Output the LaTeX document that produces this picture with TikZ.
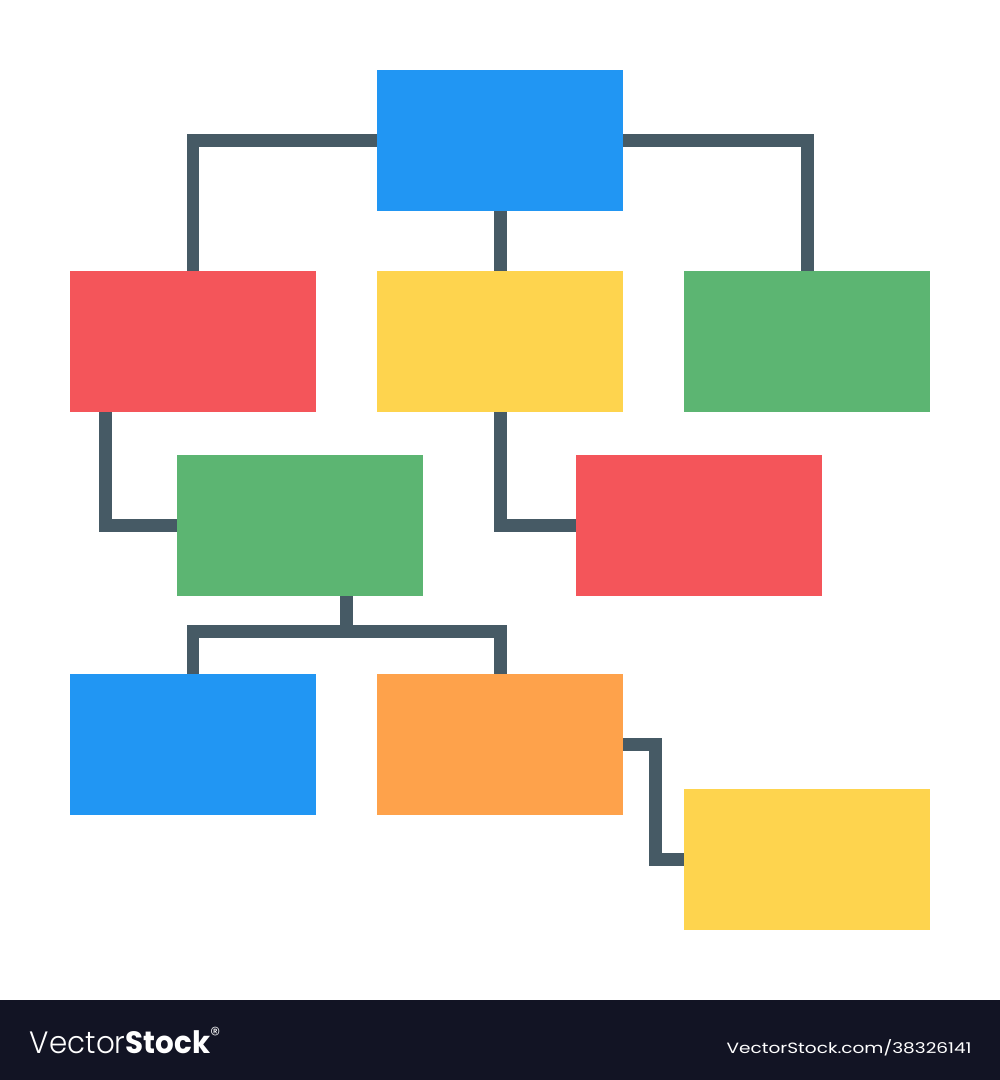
\documentclass[tikz,border=0pt]{standalone}
\usepackage{fontspec}
\usetikzlibrary{calc}
\newfontfamily\wmfont{Poppins}
\newfontfamily\wmlight{Poppins}[UprightFont={* Light}]
\definecolor{chartblue}{HTML}{2196F3}
\definecolor{chartred}{HTML}{F4555A}
\definecolor{chartyellow}{HTML}{FED44E}
\definecolor{chartgreen}{HTML}{5CB572}
\definecolor{chartorange}{HTML}{FEA24B}
\definecolor{slate}{HTML}{465A65}
\definecolor{barnavy}{HTML}{121424}
\begin{document}
\begin{tikzpicture}[
			x=0.02cm, y=-0.02cm,
			box/.style={rectangle, draw=none, inner sep=0pt, minimum width=4.92cm, minimum height=2.82cm},
			link/.style={draw=slate, line width=0.26cm, line join=miter},
			wmtext/.style={inner sep=0pt, outer sep=0pt, text=white, anchor=base west}
		]
		\useasboundingbox (0,0) rectangle (1000,1080);
		\fill[white] (0,0) rectangle (1000,1000);

		% Level 1
		\node[box, fill=chartblue] (root) at (500,140.5) {};

		% Level 2
		\node[box, fill=chartred] (left) at (193,341.5) {};
		\node[box, fill=chartyellow] (mid) at (500,341.5) {};
		\node[box, fill=chartgreen] (right) at (807,341.5) {};

		% Level 3
		\node[box, fill=chartgreen] (leftsub) at (300,525.5) {};
		\node[box, fill=chartred] (midsub) at (699,525.5) {};

		% Level 4
		\node[box, fill=chartblue] (leaf1) at (193,744.5) {};
		\node[box, fill=chartorange] (leaf2) at (500,744.5) {};
		\node[box, fill=chartyellow] (leaf3) at (807,859.5) {};
		\coordinate (fork) at (346.5,631);

		\draw[link] (root.west) -| (left.north);
		\draw[link] (root.east) -| (right.north);
		\draw[link] (root.south) -- (mid.north);

		\draw[link] ([xshift=0.714cm]left.south west) |- (leftsub.west);
		\draw[link] (mid.south) |- (midsub.west);

		\draw[link] (fork |- leftsub.south) -- (fork);
		\draw[link] (leaf1.north) |- (fork) -| (leaf2.north);
		\draw[link] (leaf2.east) -- ++(32.5,0) |- (leaf3.west);

		% watermark bar
		\fill[barnavy] (0,1000) rectangle (1000,1080);
		\node[wmtext] (logo) at (30,1053.3) {\resizebox{3.84cm}{0.53cm}{\wmlight Vector{\wmfont\bfseries Stock}\textsuperscript{\wmlight ®}}};
		\node[wmtext] (url) at (726.7,1053.3) {\resizebox{4.9cm}{0.28cm}{\wmfont VectorStock.com/38326141}};
	\end{tikzpicture}
\end{document}
